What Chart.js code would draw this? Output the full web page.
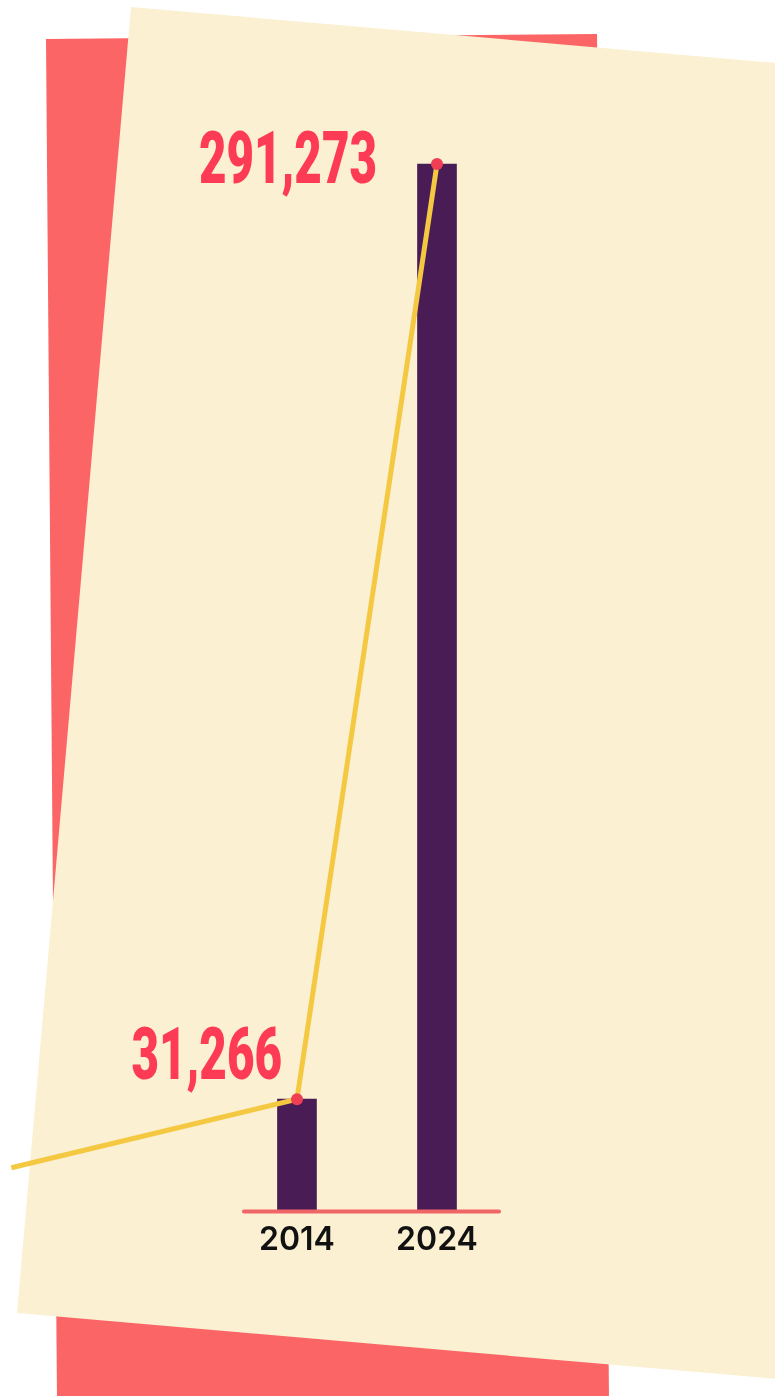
<!DOCTYPE html>
<html>
<head>
<meta charset="utf-8">
<script src="https://cdn.jsdelivr.net/npm/chart.js@4/dist/chart.umd.min.js"></script>
<style>
  html, body { margin: 0; padding: 0; background: #fff; }
  body { width: 775px; height: 1396px; position: relative; overflow: hidden; }
  .sheet { position: absolute; left: 0; top: 0; width: 775px; height: 1396px; }
  #back { background: #fc6565; clip-path: polygon(46px 39px, 597px 34px, 609px 1400px, 57px 1400px); }
  #front { background: #fbf0d2; clip-path: polygon(131px 7px, 800px 65px, 800px 1381px, 17px 1313px); }
  #myChart { position: absolute; left: 0; top: 0; }
</style>
</head>
<body>
<div class="sheet" id="back"></div>
<div class="sheet" id="front"></div>
<canvas id="myChart" width="775" height="1270"></canvas>
<script>
let years = [2014, 2024];
let totals = [31266, 291273];
let valueLabels = ["31,266", "291,273"];

// yellow trend line, starts off to the left of the first bar
let trendYears = [1993.6, 2014, 2024];
let trendValues = [12200, 31266, 291273];

// where each big number sits relative to the top of its bar
let labelShift = [[-15, -20], [-60, 19]];

let axisLine = {
    id: "axisLine",
    afterDatasetsDraw(chart) {
        let ctx = chart.ctx;
        let x = chart.scales.x;
        let y = chart.scales.y.getPixelForValue(0);
        ctx.save();
        ctx.strokeStyle = "#f06566";
        ctx.lineWidth = 4;
        ctx.lineCap = "round";
        ctx.beginPath();
        ctx.moveTo(x.getPixelForValue(years[0]) - 53, y);
        ctx.lineTo(x.getPixelForValue(years[years.length - 1]) + 62, y);
        ctx.stroke();
        ctx.restore();
    }
};

let bigNumbers = {
    id: "bigNumbers",
    afterDraw(chart) {
        let ctx = chart.ctx;
        ctx.save();
        ctx.fillStyle = "#fe3b55";
        ctx.font = "900 72px Roboto";
        ctx.textAlign = "right";
        ctx.textBaseline = "alphabetic";
        for (let i = 0; i < years.length; i++) {
            let px = chart.scales.x.getPixelForValue(years[i]) + labelShift[i][0];
            let py = chart.scales.y.getPixelForValue(totals[i]) + labelShift[i][1];
            ctx.save();
            ctx.translate(px, py);
            ctx.scale(0.66, 1);
            ctx.fillText(valueLabels[i], 0, 0);
            ctx.restore();
        }
        ctx.restore();
    }
};

new Chart("myChart", {
    type: "bar",
    data: {
        datasets: [{
            type: "line",
            data: trendYears.map((v, i) => ({ x: v, y: trendValues[i] })),
            borderColor: "#f5c842",
            borderWidth: 5,
            pointRadius: [0, 6, 6],
            pointBackgroundColor: "#f03e55",
            pointBorderWidth: 0,
            tension: 0,
            clip: false,
            order: 0
        }, {
            type: "bar",
            data: years.map((v, i) => ({ x: v, y: totals[i] })),
            backgroundColor: "#4a1c56",
            barThickness: 39,
            order: 1
        }]
    },
    options: {
        responsive: false,
        animation: false,
        layout: { padding: 0, autoPadding: false },
        plugins: { legend: { display: false }, tooltip: { enabled: false } },
        scales: {
            x: {
                type: "linear",
                offset: false,
                min: 1992.79,
                max: 2048.14,
                grid: { display: false, drawTicks: false },
                border: { display: false },
                afterBuildTicks: (scale) => { scale.ticks = years.map(v => ({ value: v })); },
                ticks: {
                    padding: 10,
                    color: "#111",
                    font: { family: "Inter", size: 32, weight: "600" },
                    callback: (v) => String(v)
                }
            },
            y: {
                display: false,
                min: 0,
                max: 336900
            }
        }
    },
    plugins: [axisLine, bigNumbers]
});
</script>
</body>
</html>
